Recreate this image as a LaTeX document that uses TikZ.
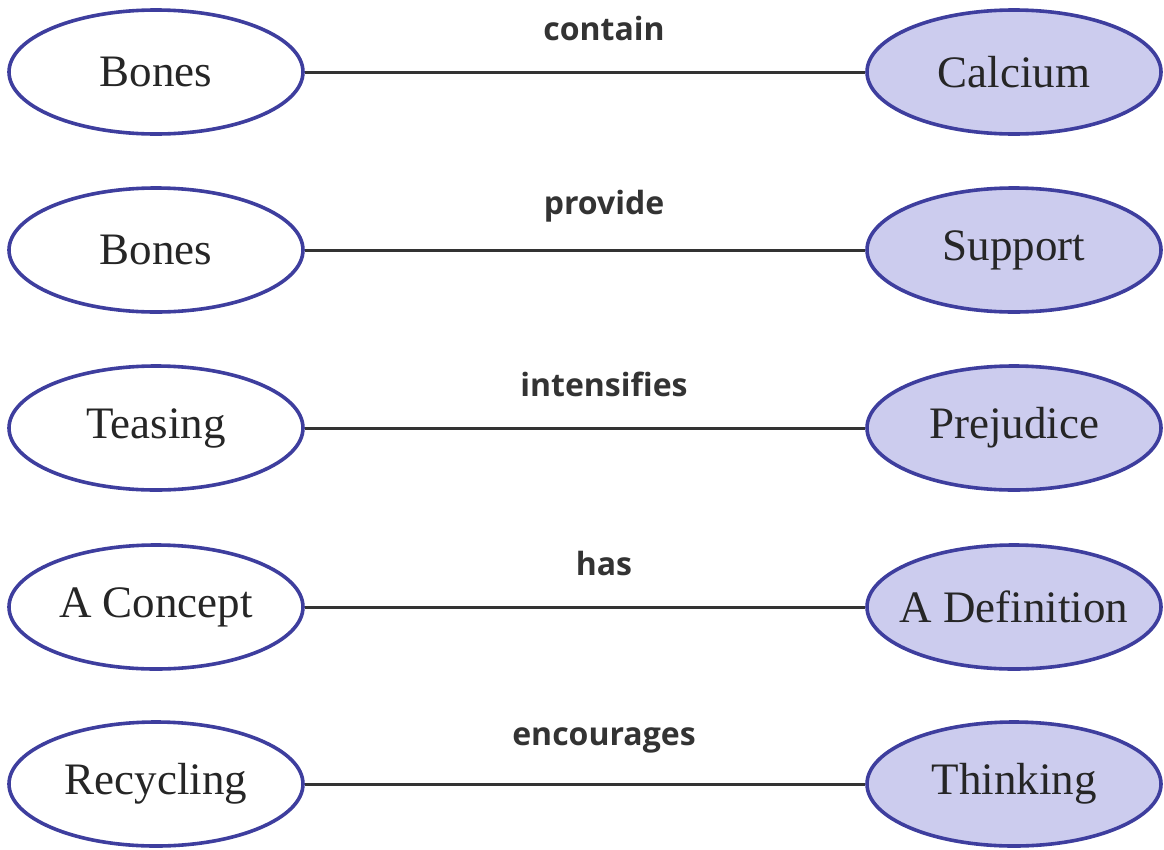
\documentclass[tikz,border=0pt]{standalone}
\usepackage{fontspec}
\setmainfont{Liberation Serif}
\newfontfamily\labfont{Open Sans}
\usetikzlibrary{shapes.geometric}
\definecolor{edgeblue}{HTML}{3E3E9E}
\definecolor{lav}{HTML}{CCCCEE}
\tikzset{
  concept/.style={ellipse, draw=edgeblue, line width=3.6pt, minimum width=294pt, minimum height=124pt, inner sep=0pt, font=\fontsize{45}{50}\selectfont, text=black!85},
  leftc/.style={concept, fill=white},
  rightc/.style={concept, fill=lav},
  link/.style={draw=black!80, line width=3pt},
  lab/.style={font=\labfont\bfseries\fontsize{32}{38}\selectfont, text=black!80}
}
\begin{document}
\begin{tikzpicture}[x=1pt,y=-1pt]
\useasboundingbox (0,0) rectangle (1164,849);
\foreach \i/\l/\r/\t/\y in {1/Bones/Calcium/contain/72, 2/Bones/Support/provide/250, 3/Teasing/Prejudice/intensifies/428, 4/A Concept/A Definition/has/607, 5/Recycling/Thinking/encourages/784}{
  \node[leftc] (L\i) at (156,\y) {\makebox[0pt]{\l}};
  \node[rightc] (R\i) at (1014,\y) {\makebox[0pt]{\r}};
  \draw[link] (L\i) -- (R\i);
  \node[lab] (T\i) at (604,\y-44) {\t};
}
\end{tikzpicture}
\end{document}
